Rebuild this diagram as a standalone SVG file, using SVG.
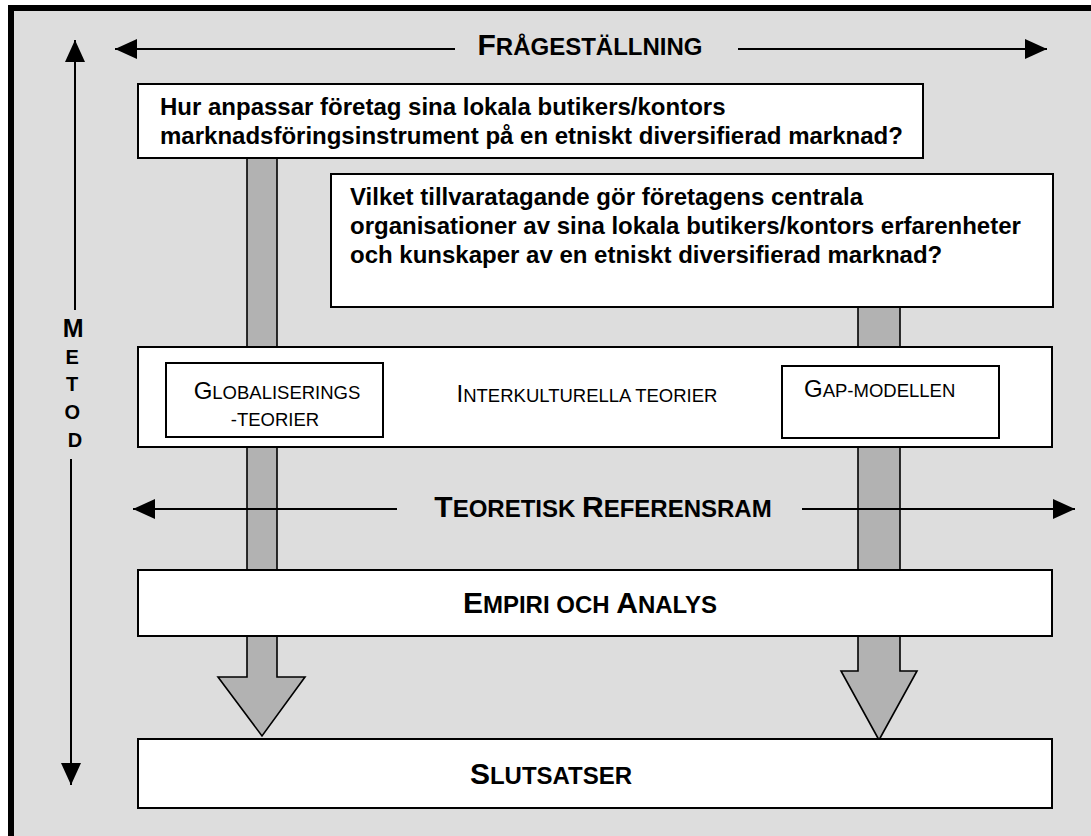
<svg xmlns="http://www.w3.org/2000/svg" width="1091" height="836" viewBox="0 0 1091 836">
  <style>
    .frame { fill: #dddddd; stroke: #000; stroke-width: 6; }
    .box { fill: #fff; stroke: #000; stroke-width: 2; }
    .inner { fill: #fff; stroke: #000; stroke-width: 2; }
    .shaft { fill: #b2b2b2; stroke: #000; stroke-width: 1.6; stroke-linejoin: miter; }
    .line { stroke: #000; stroke-width: 2; fill: none; }
    .q { font-family: "Liberation Sans", Arial, sans-serif; font-weight: bold; font-size: 24px; fill: #000; }
    .title { font-family: "Liberation Sans", Arial, sans-serif; font-weight: bold; font-size: 24px; fill: #000; }
    .title .big { font-size: 30px; }
    .sc { font-family: "Liberation Sans", Arial, sans-serif; font-size: 18.5px; fill: #000; }
    .sc .big { font-size: 24px; }
    .metod { font-family: "Liberation Sans", Arial, sans-serif; font-weight: bold; font-size: 20px; fill: #000; }
    .metod .big { font-size: 25px; }
  </style>
  <defs>
    <marker id="head" markerUnits="userSpaceOnUse" markerWidth="22" markerHeight="20" refX="22" refY="10" orient="auto-start-reverse">
      <path d="M0,0 L22,10 L0,20 Z" fill="#000"/>
    </marker>
  </defs>

  <!-- outer frame -->
  <rect class="frame" x="11" y="8" width="1100" height="850"/>

  <!-- broad grey flow arrows running down behind the boxes -->
  <g id="flows">
    <polygon class="shaft" points="247,158 277,158 277,677 305,677 262,736 218,677 247,677"/>
    <polygon class="shaft" points="858,307 900,307 900,671 917,671 879,740 841,671 858,671"/>
  </g>

  <g id="q1">
    <rect class="box" x="138" y="84" width="785" height="74"/>
    <text class="q" x="160" y="115">Hur anpassar företag sina lokala butikers/kontors</text>
    <text class="q" x="160" y="144">marknadsföringsinstrument på en etniskt diversifierad marknad?</text>
  </g>

  <g id="q2">
    <rect class="box" x="331" y="174" width="722" height="133"/>
    <text class="q" x="350" y="205">Vilket tillvaratagande gör företagens centrala</text>
    <text class="q" x="350" y="234">organisationer av sina lokala butikers/kontors erfarenheter</text>
    <text class="q" x="350" y="263">och kunskaper av en etniskt diversifierad marknad?</text>
  </g>

  <g id="theories">
    <rect class="box" x="138" y="347" width="914" height="100"/>
    <text class="sc" x="587" y="402" text-anchor="middle"><tspan class="big">I</tspan>NTERKULTURELLA TEORIER</text>
  </g>

  <g id="globalisering">
    <rect class="inner" x="166" y="363" width="217" height="74"/>
    <text class="sc" x="277" y="399" text-anchor="middle"><tspan class="big">G</tspan>LOBALISERINGS</text>
    <text class="sc" x="275" y="426" text-anchor="middle">-TEORIER</text>
  </g>

  <g id="gap">
    <rect class="inner" x="782" y="366" width="217" height="72"/>
    <text class="sc" x="804" y="397"><tspan class="big">G</tspan>AP-MODELLEN</text>
  </g>

  <g id="empiri">
    <rect class="box" x="138" y="570" width="914" height="66"/>
    <text class="title" x="590" y="613" text-anchor="middle"><tspan class="big">E</tspan>MPIRI OCH <tspan class="big">A</tspan>NALYS</text>
  </g>

  <g id="slutsatser">
    <rect class="box" x="138" y="739" width="914" height="69"/>
    <text class="title" x="551" y="784" text-anchor="middle"><tspan class="big">S</tspan>LUTSATSER</text>
  </g>

  <g id="connectors">
    <!-- Frågeställning span -->
    <line class="line" x1="455" y1="49" x2="115" y2="49" marker-end="url(#head)"/>
    <line class="line" x1="738" y1="49" x2="1047" y2="49" marker-end="url(#head)"/>
    <!-- Teoretisk referensram span -->
    <line class="line" x1="397" y1="509" x2="133" y2="509" marker-end="url(#head)"/>
    <line class="line" x1="802" y1="509" x2="1075" y2="509" marker-end="url(#head)"/>
    <!-- Metod axis -->
    <line class="line" x1="75" y1="310" x2="75" y2="40" marker-end="url(#head)"/>
    <line class="line" x1="71" y1="459" x2="71" y2="785" marker-end="url(#head)"/>
  </g>

  <g id="labels">
    <text class="title" x="590" y="55" text-anchor="middle"><tspan class="big">F</tspan>RÅGESTÄLLNING</text>
    <text class="title" x="603" y="517" text-anchor="middle"><tspan class="big">T</tspan>EORETISK <tspan class="big">R</tspan>EFERENSRAM</text>
    <text class="metod" text-anchor="middle">
      <tspan class="big" x="76" y="337">M</tspan>
      <tspan x="75" y="364">E</tspan>
      <tspan x="75" y="391">T</tspan>
      <tspan x="75" y="419">O</tspan>
      <tspan x="75" y="447">D</tspan>
    </text>
  </g>
</svg>
